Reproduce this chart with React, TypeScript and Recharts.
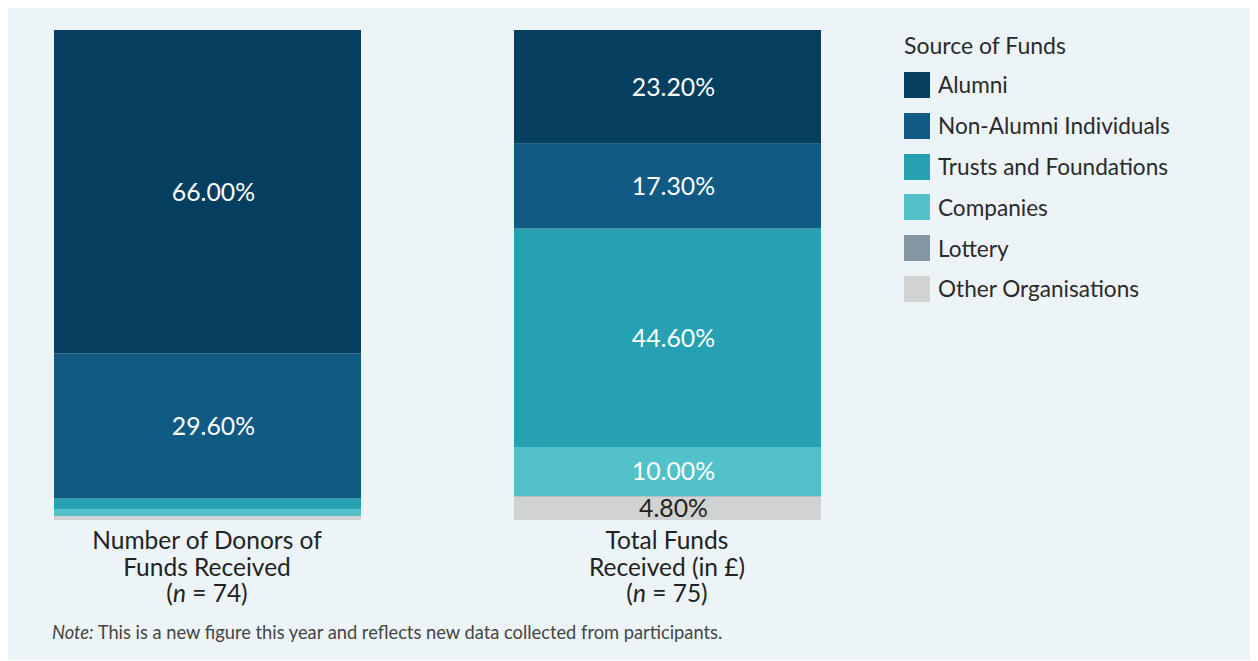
import React from 'react';
import { BarChart, Bar, XAxis, YAxis, LabelList } from 'recharts';

// categories (bars) and their sample sizes
const categories = ['donors', 'funds'];
const categoryLines = [
  ['Number of Donors of', 'Funds Received'],
  ['Total Funds', 'Received (in £)'],
];
const sampleSizes = [74, 75];

// percentage shares, one value per category
const alumni = [66.0, 23.2];
const nonAlumni = [29.6, 17.3];
const trusts = [2.2, 44.6];
const companies = [1.4, 10.0];
const lottery = [0, 0.1];
const otherOrgs = [0.8, 4.8];

const seriesNames = [
  'Alumni',
  'Non-Alumni Individuals',
  'Trusts and Foundations',
  'Companies',
  'Lottery',
  'Other Organisations',
];
const seriesKeys = ['alumni', 'nonAlumni', 'trusts', 'companies', 'lottery', 'otherOrgs'];
const seriesColors = ['#053f5f', '#115a84', '#25a1b1', '#52c1ca', '#8697a4', '#d1d2d2'];
const seriesLabelColors = ['#fff', '#fff', '#fff', '#fff', '#fff', '#222'];

const data = categories.map((c, i) => ({
  name: c,
  alumni: alumni[i],
  nonAlumni: nonAlumni[i],
  trusts: trusts[i],
  companies: companies[i],
  lottery: lottery[i],
  otherOrgs: otherOrgs[i],
}));

const FONT = 'Lato, "Open Sans", sans-serif';

const formatPct = (v: any) => (Number(v) >= 4 ? `${Number(v).toFixed(2)}%` : '');

function CategoryTick(props: any) {
  const { x, y, index } = props;
  const lines = categoryLines[index] || [];
  return (
    <text x={x} y={y} textAnchor="middle" fontFamily={FONT} fontSize={24.5} fill="#222">
      <tspan x={x} dy={21}>{lines[0]}</tspan>
      <tspan x={x} dy={26.5}>{lines[1]}</tspan>
      <tspan x={x} dy={26.5}>
        (<tspan fontStyle="italic">n</tspan> = {sampleSizes[index]})
      </tspan>
    </text>
  );
}

function FundsLegend() {
  return (
    <div style={{ fontFamily: FONT, color: '#2a2a2a' }}>
      <div style={{ fontSize: 23, lineHeight: '28px', marginBottom: 5.6 }}>Source of Funds</div>
      {seriesNames.map((name, i) => (
        <div key={name} style={{ display: 'flex', alignItems: 'center', height: 40.8 }}>
          <div style={{ width: 26, height: 26, background: seriesColors[i], marginRight: 8, flex: 'none' }} />
          <span style={{ fontSize: 22.6, whiteSpace: 'nowrap' }}>{name}</span>
        </div>
      ))}
    </div>
  );
}

export default function App() {
  // draw bottom segment first so it stacks at the bottom
  const order = [5, 4, 3, 2, 1, 0];
  return (
    <div
      style={{
        position: 'relative',
        left: -1,
        top: -1,
        width: 1244,
        height: 653,
        background: '#edf4f8',
        fontFamily: FONT,
      }}
    >
      <div style={{ position: 'absolute', left: -30.5, top: 0 }}>
        <BarChart
          width={920}
          height={613}
          data={data}
          margin={{ top: 23, right: 0, bottom: 0, left: 0 }}
          barCategoryGap={0}
          barSize={307}
        >
          <XAxis
            dataKey="name"
            axisLine={false}
            tickLine={false}
            height={100}
            interval={0}
            tick={<CategoryTick />}
          />
          <YAxis hide domain={[0, 100]} type="number" />
          {order.map((i) => (
            <Bar
              key={seriesKeys[i]}
              dataKey={seriesKeys[i]}
              name={seriesNames[i]}
              stackId="a"
              fill={seriesColors[i]}
              isAnimationActive={false}
            >
              <LabelList
                dataKey={seriesKeys[i]}
                position="center"
                formatter={formatPct}
                fill={seriesLabelColors[i]}
                fontSize={24.8}
                fontFamily={FONT}
                dx={6}
              />
            </Bar>
          ))}
        </BarChart>
      </div>
      <div style={{ position: 'absolute', left: 897, top: 24 }}>
        <FundsLegend />
      </div>
      <div
        style={{
          position: 'absolute',
          left: 45,
          top: 614,
          fontSize: 18.3,
          lineHeight: '22px',
          color: '#444',
        }}
      >
        <i>Note:</i> This is a new figure this year and reflects new data collected from participants.
      </div>
    </div>
  );
}
